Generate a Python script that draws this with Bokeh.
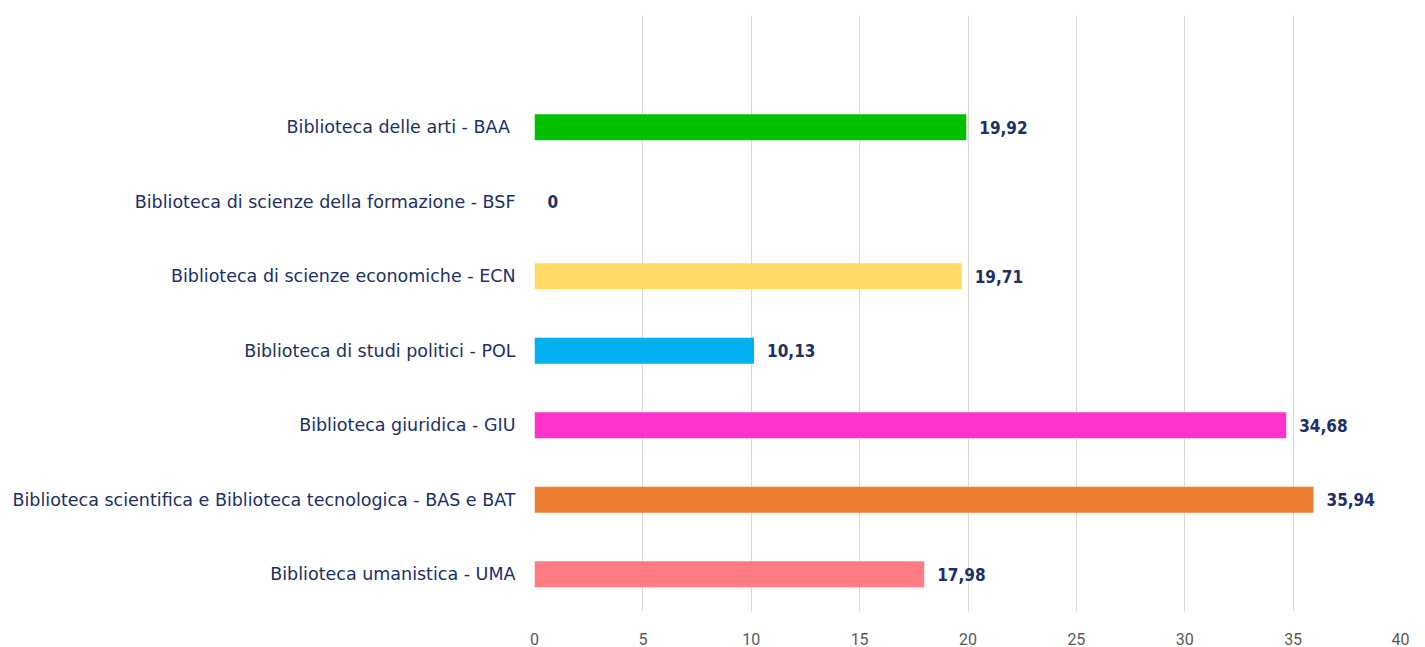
from bokeh.plotting import figure
from bokeh.models import ColumnDataSource, FactorRange, FixedTicker, LabelSet
from bokeh.core.properties import value
from bokeh.embed import file_html
from bokeh.resources import INLINE

categories = [
    "Biblioteca delle arti - BAA ",
    "Biblioteca di scienze della formazione - BSF",
    "Biblioteca di scienze economiche - ECN",
    "Biblioteca di studi politici - POL",
    "Biblioteca giuridica - GIU",
    "Biblioteca scientifica e Biblioteca tecnologica - BAS e BAT",
    "Biblioteca umanistica - UMA",
]
values = [19.92, 0, 19.71, 10.13, 34.68, 35.94, 17.98]
colors = ["#00C000", "#A5A5A5", "#FFD966", "#00B0F0", "#FF33CC", "#ED7D31", "#FF7C80"]
x_ticks = [0, 5, 10, 15, 20, 25, 30, 35, 40]

labels = [f"{v:.2f}".replace(".", ",") if v != 0 else "0" for v in values]

source = ColumnDataSource(dict(cat=categories, val=values, color=colors, label=labels))

factors = list(reversed(categories)) + [" "]

p = figure(width=1409, height=647, y_range=FactorRange(factors=factors, range_padding=0),
           x_range=(0, 40), output_backend="svg", toolbar_location=None,
           min_border_left=534, min_border_right=8, min_border_top=15, min_border_bottom=35)
p.outline_line_color = None
p.background_fill_color = "white"

p.hbar(y="cat", right="val", left=0, height=0.35, color="color", line_color=None, source=source)

lab = LabelSet(x="val", y="cat", text="label", source=source, x_offset=13, y_offset=0,
               text_align="left", text_baseline="middle", text_color="#203064",
               text_font=value("DejaVu Sans Condensed"), text_font_size="17px",
               text_font_style="bold")
p.add_layout(lab)

p.xaxis.ticker = FixedTicker(ticks=x_ticks)
p.xaxis.axis_line_color = None
p.xaxis.major_tick_line_color = None
p.xaxis.minor_tick_line_color = None
p.xaxis.major_label_text_color = "#595959"
p.xaxis.major_label_text_font = "Roboto"
p.xaxis.major_label_text_font_size = "16px"
p.xaxis.major_label_standoff = 15

p.yaxis.axis_line_color = None
p.yaxis.major_tick_line_color = None
p.yaxis.minor_tick_line_color = None
p.yaxis.major_label_text_color = "#203064"
p.yaxis.major_label_text_font = "DejaVu Sans"
p.yaxis.major_label_text_font_size = "17.5px"
p.yaxis.major_label_standoff = 13

p.xgrid.grid_line_color = "#D9D9D9"
p.xgrid.grid_line_width = 1
p.ygrid.grid_line_color = None

open("out.html", "w").write(file_html(p, INLINE))
